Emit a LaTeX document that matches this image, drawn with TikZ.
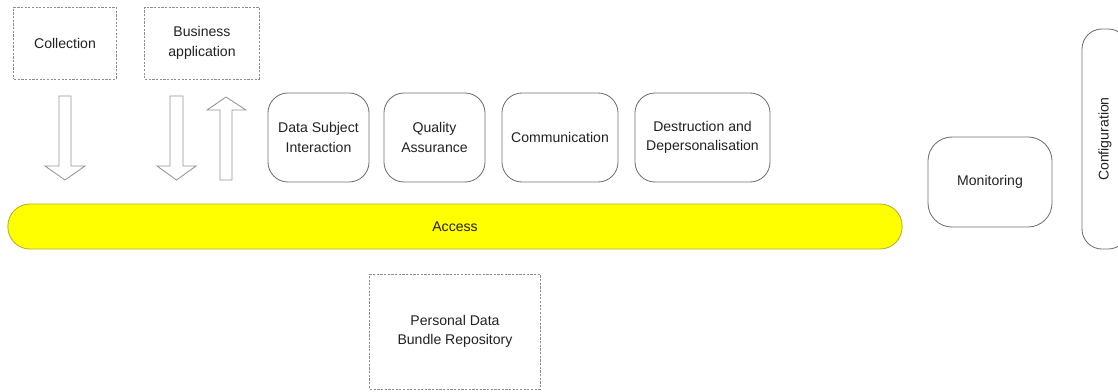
\documentclass[tikz,border=0pt]{standalone}
\usepackage{fontspec}
\setmainfont{Liberation Sans}
\usepackage{tikz}
\usetikzlibrary{calc}
\definecolor{boxgray}{HTML}{707070}
\definecolor{txtgray}{HTML}{222222}
\definecolor{accessline}{HTML}{B5AE2E}
\definecolor{accessfill}{HTML}{FFFF00}
\tikzset{
	every node/.style={font=\fontsize{10}{14}\selectfont, text=txtgray, align=center},
	extbox/.style={draw=boxgray!80, line width=0.7pt, dash pattern=on 1.6pt off 1pt, inner sep=0pt},
	funcbox/.style={draw=boxgray, line width=0.6pt, rounded corners=0.5cm, inner sep=0pt},
	blockarrow/.style={draw=boxgray!75, line width=0.6pt, fill=white},
}

\begin{document}
\begin{tikzpicture}[x=0.025cm, y=-0.025cm]
		%%%%% START %%%%%
		\useasboundingbox (0, 0) rectangle (1118, 391);
		
		% outside the access layer
		\node[extbox, minimum width=2.55cm, minimum height=1.8cm] (collection) at (65, 43) {Collection};
		\node[extbox, minimum width=2.85cm, minimum height=1.8cm] (business) at (202, 43) {Business\\application};
		
		\draw[blockarrow] (59, 96) -- (71, 96) -- (71, 166) -- (85, 166) -- (65, 180) -- (45, 166) -- (59, 166) -- cycle;
		\draw[blockarrow] (170, 96) -- (183, 96) -- (183, 166) -- (196, 166) -- (176.5, 180) -- (157, 166) -- (170, 166) -- cycle;
		\draw[blockarrow] (220, 180) -- (232, 180) -- (232, 110) -- (246, 110) -- (226, 97) -- (207, 110) -- (220, 110) -- cycle;
		
		% functions
		\node[funcbox, minimum width=2.525cm, minimum height=2.225cm] (subject) at (318.5, 137.5) {Data Subject\\Interaction};
		\node[funcbox, minimum width=2.525cm, minimum height=2.225cm] (quality) at (434.5, 137.5) {Quality\\Assurance};
		\node[funcbox, minimum width=2.9cm, minimum height=2.225cm] (communication) at (560, 137.5) {Communication};
		\node[funcbox, minimum width=3.375cm, minimum height=2.225cm] (destruction) at (702.5, 137.5) {Destruction and\\Depersonalisation};
		\node[funcbox, rounded corners=0.6cm, minimum width=3.1cm, minimum height=2.25cm] (monitoring) at (990, 182) {Monitoring};
		\node[funcbox, minimum width=5.5cm, minimum height=1.15cm, rotate=90] (configuration) at (1105, 139) {Configuration};
		
		% access layer
		\node[draw=accessline, fill=accessfill, line width=0.6pt, rounded corners=0.55cm, minimum width=22.35cm, minimum height=1.125cm, inner sep=0pt] (access) at (455, 226.5) {Access};
		
		% repository
		\node[extbox, minimum width=4.25cm, minimum height=2.875cm] (repository) at (455, 331.5) {Personal Data\\Bundle Repository};
		
		%%%%% END %%%%%
	\end{tikzpicture}
\end{document}
